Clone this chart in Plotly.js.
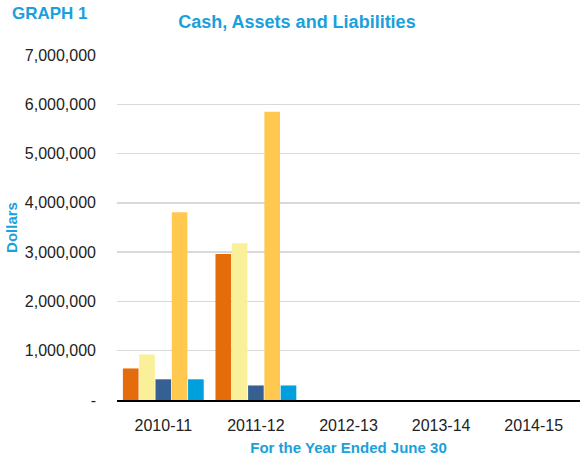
<!DOCTYPE html>
<html><head><meta charset="utf-8">
<script src="https://cdn.plot.ly/plotly-3.0.1.min.js"></script>
<style>body{margin:0;background:#fff}#c{width:580px;height:460px}</style>
</head><body><div id="c"></div>
<script>
const years = ["2010-11","2011-12","2012-13","2013-14","2014-15"];
const seriesNames = ["Cash","Current Assets","Current Liabilities","Total Assets","Total Liabilities"];
const s1 = [640000, 2960000, null, null, null];
const s2 = [925000, 3180000, null, null, null];
const s3 = [420000, 295000, null, null, null];
const s4 = [3810000, 5850000, null, null, null];
const s5 = [420000, 295000, null, null, null];
const tickVals = [0,1000000,2000000,3000000,4000000,5000000,6000000,7000000];
const tickText = ["-","1,000,000","2,000,000","3,000,000","4,000,000","5,000,000","6,000,000","7,000,000"];
const colors = ["#E46C0A","#FBF09A","#366092","#FFC94F","#00A0DC"];
const all = [s1,s2,s3,s4,s5];
const traces = all.map((v,i)=>({type:"bar",x:years,y:v,name:seriesNames[i],marker:{color:colors[i]},hoverinfo:"none"}));
const cyan = "#1AA0DB";
Plotly.newPlot("c",traces,{
  width:580,height:460,
  margin:{l:117,r:0,t:55,b:60},
  barmode:"group",bargap:0.12,bargroupgap:0.04,
  showlegend:false,
  paper_bgcolor:"#fff",plot_bgcolor:"#fff",
  font:{family:"Liberation Sans, Arial, sans-serif",color:"#222"},
  title:{text:"Cash, Assets and Liabilities",x:0.512,xanchor:"center",y:0.953,yanchor:"middle",font:{size:18,color:cyan,family:"Liberation Sans, Arial, sans-serif",weight:"bold"}},
  xaxis:{type:"category",showline:true,linecolor:"#000",linewidth:1.5,ticks:"",ticklabelstandoff:10,tickfont:{size:16,color:"#222"},
    title:{text:"For the Year Ended June 30",standoff:10,font:{size:15,color:cyan,weight:"bold"}}},
  yaxis:{range:[0,7000000],tickvals:tickVals,ticktext:tickText,showgrid:true,gridcolor:"#D9D9D9",gridwidth:1.5,zeroline:false,showline:false,ticks:"",ticklabelstandoff:20,tickfont:{size:16,color:"#222"},
    title:{text:"Dollars",standoff:3,font:{size:15,color:cyan,weight:"bold"}}},
  annotations:[{text:"GRAPH 1",xref:"paper",yref:"paper",x:-0.232,y:1.119,xanchor:"left",yanchor:"middle",showarrow:false,font:{size:17,color:cyan,weight:"bold"}}]
},{displayModeBar:false,staticPlot:true});
</script></body></html>
